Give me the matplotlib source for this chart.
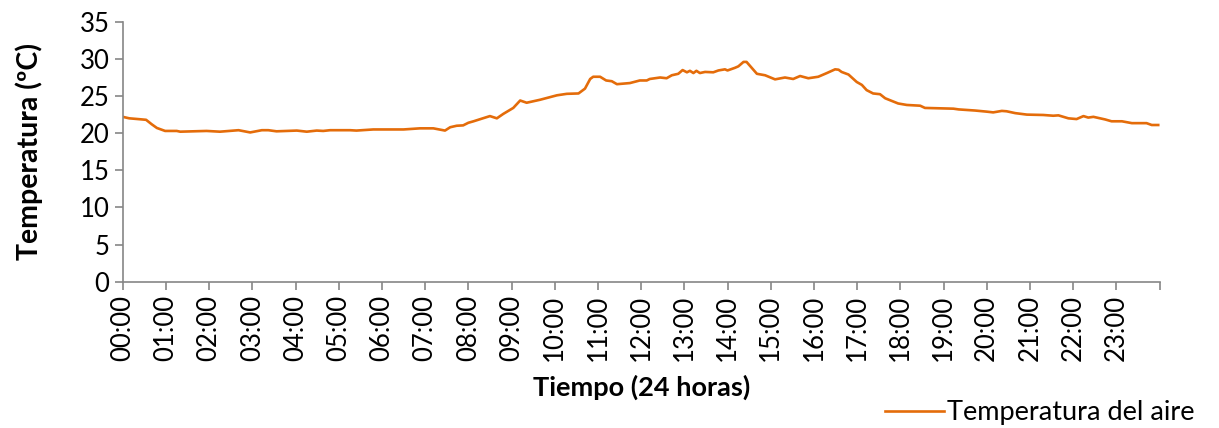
import matplotlib
matplotlib.use("Agg")
import matplotlib.pyplot as plt

plt.rcParams['font.family'] = ['Lato', 'DejaVu Sans']

# time of day (hours) and air temperature (C)
hours = [0.00, 0.15, 0.35, 0.54, 0.67, 0.79, 0.98, 1.25, 1.33, 1.94, 2.25, 2.68,
         2.95, 3.22, 3.37, 3.56, 4.03, 4.26, 4.49, 4.64, 4.80, 5.26, 5.41, 5.80,
         6.50, 6.88, 7.19, 7.46, 7.58, 7.73, 7.88, 8.00, 8.12, 8.39, 8.50, 8.66,
         8.81, 9.04, 9.20, 9.35, 9.66, 10.05, 10.28, 10.55, 10.70, 10.82, 10.89,
         11.05, 11.19, 11.32, 11.44, 11.74, 11.97, 12.13, 12.20, 12.44, 12.59,
         12.71, 12.86, 12.96, 13.06, 13.13, 13.21, 13.28, 13.36, 13.48, 13.67,
         13.79, 13.94, 14.00, 14.17, 14.25, 14.37, 14.44, 14.56, 14.68, 14.87,
         15.10, 15.33, 15.52, 15.68, 15.87, 16.10, 16.30, 16.49, 16.57, 16.64,
         16.80, 16.99, 17.11, 17.22, 17.37, 17.53, 17.65, 17.95, 18.15, 18.46,
         18.57, 19.23, 19.35, 19.73, 20.00, 20.15, 20.35, 20.46, 20.66, 20.93,
         21.31, 21.54, 21.66, 21.89, 22.08, 22.24, 22.35, 22.47, 22.74, 22.89,
         23.13, 23.36, 23.70, 23.82, 23.97]
temp = [22.2, 22.0, 21.9, 21.8, 21.2, 20.7, 20.3, 20.3, 20.2, 20.3, 20.2, 20.4,
        20.1, 20.4, 20.4, 20.25, 20.35, 20.2, 20.35, 20.3, 20.4, 20.4, 20.35, 20.5,
        20.5, 20.65, 20.65, 20.35, 20.8, 21.0, 21.05, 21.4, 21.6, 22.1, 22.3, 22.0,
        22.6, 23.4, 24.4, 24.1, 24.5, 25.1, 25.3, 25.35, 26.0, 27.3, 27.6,
        27.6, 27.1, 27.0, 26.6, 26.75, 27.1, 27.1, 27.3, 27.5, 27.4,
        27.8, 28.0, 28.5, 28.2, 28.4, 28.1, 28.4, 28.1, 28.25, 28.2,
        28.45, 28.6, 28.45, 28.8, 29.0, 29.6, 29.6, 28.8, 28.0, 27.8,
        27.25, 27.5, 27.3, 27.7, 27.4, 27.6, 28.1, 28.6, 28.55, 28.25,
        27.9, 26.9, 26.5, 25.8, 25.35, 25.25, 24.7, 24.0, 23.8, 23.7,
        23.4, 23.3, 23.2, 23.05, 22.9, 22.8, 23.0, 22.95, 22.7, 22.5,
        22.45, 22.35, 22.4, 22.0, 21.9, 22.3, 22.1, 22.2, 21.85, 21.6,
        21.6, 21.35, 21.35, 21.1, 21.1]

tick_hours = list(range(25))
tick_labels = ["%02d:00" % h for h in range(24)] + [""]

fig = plt.figure(figsize=(12.19, 4.28), dpi=100)
ax = fig.add_axes([0.1007, 0.342, 0.8505, 0.607])

ax.plot(hours, temp, color='#E46C0A', lw=1.9, label='Temperatura del aire')

ax.set_xlim(0, 24)
ax.set_ylim(0, 35)
ax.set_yticks(range(0, 36, 5))
ax.set_xticks(tick_hours)
ax.set_xticklabels(tick_labels, rotation=90)

for s in ['top', 'right']:
    ax.spines[s].set_visible(False)
for s in ['left', 'bottom']:
    ax.spines[s].set_color('#868686')
    ax.spines[s].set_linewidth(1.2)
ax.tick_params(colors='#868686', labelcolor='black', labelsize=18.5,
               width=1.2, length=6, direction='out')

ax.set_ylabel('Temperatura (ºC)', fontsize=20.5, fontweight='bold', labelpad=26)
ax.set_xlabel('Tiempo (24 horas)', fontsize=19.5, fontweight='bold', labelpad=10)

fig.legend(loc='lower right', bbox_to_anchor=(1.0, -0.05), frameon=False,
           fontsize=19.5, handlelength=2.2, handletextpad=0.1)

fig.savefig('out.png', dpi=100)
